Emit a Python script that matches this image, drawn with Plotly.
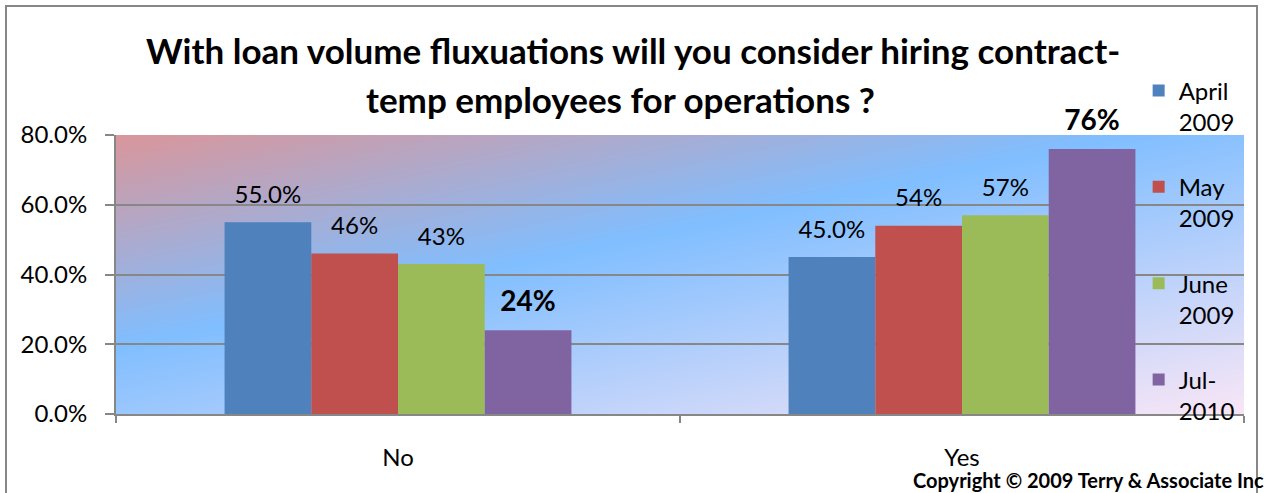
import base64
import struct
import zlib

import numpy as np
import plotly.graph_objects as go

# ---- data -------------------------------------------------------------
categories = ["No", "Yes"]
series_names = ["April<br>2009", "May<br>2009", "June<br>2009", "Jul-<br>2010"]
april_2009 = [0.55, 0.45]
may_2009 = [0.46, 0.54]
june_2009 = [0.43, 0.57]
jul_2010 = [0.24, 0.76]
y_ticks = [0.0, 0.2, 0.4, 0.6, 0.8]

series_values = [april_2009, may_2009, june_2009, jul_2010]

# ---- styling ----------------------------------------------------------
FONT = "Lato"
bar_colors = ["#4F81BD", "#C0504D", "#9BBB59", "#8064A2"]
label_templates = ["%{y:.1%}", "%{y:.0%}", "%{y:.0%}", "<b>%{y:.0%}</b>"]
label_sizes = [24, 24, 24, 28]
label_pads = [20, 20, 20, 18]
GRID = "#878787"

W, H = 1270, 493
M_L, M_R, M_T, M_B = 116, 26, 135, 79
PW, PH = W - M_L - M_R, H - M_T - M_B


def gradient_png(w, h):
    """Diagonal rose -> sky blue -> blush fill for the plot area, as a PNG data URI."""
    xs = np.arange(w)[None, :]
    ys = np.arange(h)[:, None]
    t = (0.21 * xs + ys) / (0.21 * w + h)
    stops = np.array([0.0, 0.41, 1.0])
    cols = np.array([[217, 150, 155], [128, 190, 255], [249, 230, 246]], float)
    rgb = np.stack([np.interp(t, stops, cols[:, k]) for k in range(3)], axis=-1)
    rgb = np.clip(rgb + 0.5, 0, 255).astype(np.uint8)
    raw = b"".join(b"\x00" + rgb[i].tobytes() for i in range(h))

    def chunk(tag, data):
        body = tag + data
        return struct.pack(">I", len(data)) + body + struct.pack(">I", zlib.crc32(body) & 0xFFFFFFFF)

    png = (b"\x89PNG\r\n\x1a\n"
           + chunk(b"IHDR", struct.pack(">IIBBBBB", w, h, 8, 2, 0, 0, 0))
           + chunk(b"IDAT", zlib.compress(raw, 9))
           + chunk(b"IEND", b""))
    return "data:image/png;base64," + base64.b64encode(png).decode()


fig = go.Figure()

for i, (name, vals) in enumerate(zip(series_names, series_values)):
    fig.add_trace(go.Bar(
        x=categories, y=vals, name=name,
        marker=dict(color=bar_colors[i], line=dict(width=0)),
        offsetgroup=str(i), alignmentgroup="g", legendgroup=str(i),
        hoverinfo="skip",
    ))

# value labels sitting above each bar
for i, vals in enumerate(series_values):
    fig.add_trace(go.Scatter(
        x=categories, y=vals, mode="markers+text",
        texttemplate=label_templates[i], textposition="top center",
        textfont=dict(family=FONT, size=label_sizes[i], color="black"),
        marker=dict(size=label_pads[i], opacity=0),
        offsetgroup=str(i), alignmentgroup="g",
        showlegend=False, hoverinfo="skip", cliponaxis=False,
    ))

fig.update_layout(
    width=W, height=H,
    margin=dict(l=M_L, r=M_R, t=M_T, b=M_B, pad=0),
    paper_bgcolor="white",
    plot_bgcolor="rgba(0,0,0,0)",
    barmode="group", bargap=0.385, bargroupgap=0,
    scattermode="group",
    font=dict(family=FONT, size=24, color="black"),
    showlegend=True,
    legend=dict(
        x=0.9066, xanchor="left", y=1.239, yanchor="top",
        valign="top", tracegroupgap=31, traceorder="grouped",
        maxheight=600,
        bgcolor="rgba(0,0,0,0)", font=dict(family=FONT, size=24),
        itemclick=False, itemdoubleclick=False,
    ),
    images=[dict(
        source=gradient_png(PW, PH), xref="paper", yref="paper",
        x=0, y=1, sizex=1, sizey=1, xanchor="left", yanchor="top",
        sizing="stretch", layer="below",
    )],
    shapes=[dict(
        type="rect", xref="paper", yref="paper",
        x0=-110 / PW, x1=(W - 13 - M_L) / PW, y0=-0.5, y1=(H - M_B - 6) / PH,
        line=dict(color="#878787", width=2), fillcolor="rgba(0,0,0,0)",
    )],
    annotations=[
        dict(text="<b>With loan volume fluxuations will you consider hiring contract-</b>",
             xref="paper", yref="paper", x=(633 - M_L) / PW, y=(H - M_B - 50) / PH,
             xanchor="center", yanchor="middle", showarrow=False,
             font=dict(family=FONT, size=35, color="black")),
        dict(text="<b>temp employees for operations ?</b>",
             xref="paper", yref="paper", x=(620 - M_L) / PW, y=(H - M_B - 99) / PH,
             xanchor="center", yanchor="middle", showarrow=False,
             font=dict(family=FONT, size=35, color="black")),
        dict(text="<b>Copyright © 2009 Terry & Associate Inc</b>",
             xref="paper", yref="paper", x=(1266 - M_L) / PW, y=(H - M_B - 480) / PH,
             xanchor="right", yanchor="middle", showarrow=False,
             font=dict(family=FONT, size=20, color="black")),
    ],
)

fig.update_xaxes(
    type="category", showline=True, linecolor=GRID, linewidth=2,
    ticks="outside", tickson="boundaries", ticklen=7, tickcolor=GRID, tickwidth=2,
    ticklabelstandoff=21, showgrid=False, tickfont=dict(size=24),
)
fig.update_yaxes(
    range=[0, 0.8], tickvals=y_ticks, tickformat=".1%",
    showline=True, linecolor=GRID, linewidth=2,
    ticks="outside", ticklen=9, tickcolor=GRID, tickwidth=2, ticklabelstandoff=13,
    showgrid=True, gridcolor=GRID, gridwidth=2, zeroline=False,
    tickfont=dict(size=24),
)

fig.write_html("out.html")
